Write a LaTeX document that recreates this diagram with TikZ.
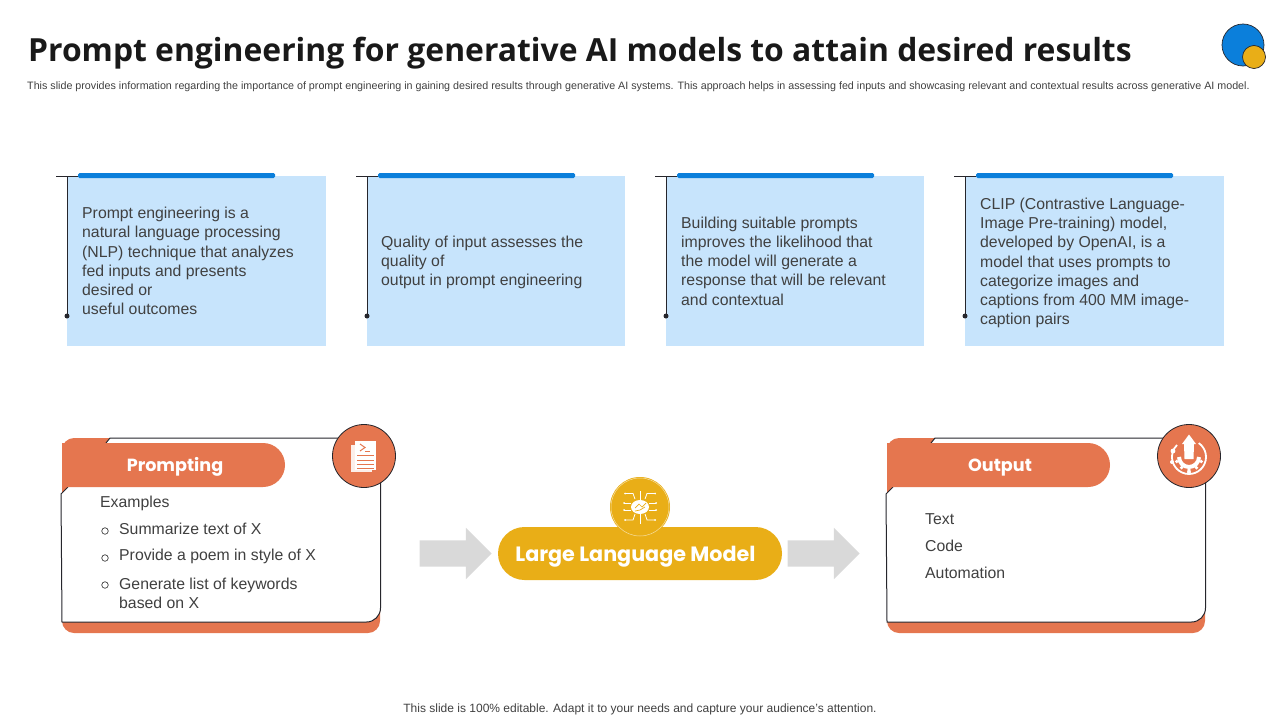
\documentclass[tikz,border=0pt]{standalone}
\usepackage{fontspec}
\setmainfont{Liberation Sans}
\newfontfamily\titlefont{Open Sans}
\newfontfamily\headfont{Poppins}
\usetikzlibrary{calc}
\usetikzlibrary{shapes.misc}
\usetikzlibrary{shapes.arrows}
\definecolor{boxblue}{HTML}{C7E4FC}
\definecolor{barblue}{HTML}{0B7FDB}
\definecolor{cardorange}{HTML}{E5764F}
\definecolor{llmyellow}{HTML}{E9AE17}
\definecolor{arrowgrey}{HTML}{D9D9D9}
\definecolor{bodygrey}{HTML}{404040}
\definecolor{linedark}{HTML}{26262C}
\tikzset{
    bodytext/.style={text=bodygrey,font=\fontsize{15.8}{19.2}\selectfont,inner sep=0pt,align=left},
    cardline/.style={anchor=west,text=bodygrey,font=\fontsize{15.8}{19}\selectfont,inner sep=0pt,align=left},
    cardpill/.style={rounded rectangle,rounded rectangle west arc=none,fill=cardorange,minimum width=223pt,minimum height=44pt,inner sep=0pt,text=white,font=\headfont\bfseries\fontsize{17.6}{22}\selectfont},
    iconcircle/.style={circle,draw=linedark,fill=cardorange,line width=0.8pt,minimum size=63pt,inner sep=0pt},
    greyarrow/.style={single arrow,fill=arrowgrey,minimum height=72pt,inner xsep=0pt,inner ysep=13pt,single arrow head extend=12.5pt,single arrow head indent=0pt}
}
\begin{document}
\begin{tikzpicture}[x=1pt,y=-1pt,line cap=butt]
            \useasboundingbox (0,0) rectangle (1280,720);
            %%%%%%%%%%%%%%%%%%%%%%%%%%%%%%%%%%%%%%%%%%title
            \node [anchor=west,inner sep=0pt,text=black!90,font=\titlefont\bfseries\fontsize{31.85}{36}\selectfont] (title) at (28,53) {Prompt engineering for generative AI models to attain desired results};
            \node [anchor=west,inner sep=0pt,text=bodygrey,font=\fontsize{10.72}{12}\selectfont] (subtitle) at (27,87) {This slide provides information regarding the importance of prompt engineering in gaining desired results through generative AI systems. This approach helps in assessing fed inputs and showcasing relevant and contextual results across generative AI model.};
            \node [circle,draw=linedark,fill=barblue,line width=0.7pt,minimum size=42pt,inner sep=0pt] (logoblue) at (1243,45) {};
            \node [circle,draw=linedark,fill=llmyellow,line width=0.7pt,minimum size=23pt,inner sep=0pt] (logoyellow) at (1254,57) {};
            %%%%%%%%%%%%%%%%%%%%%%%%%%%%%%%%%%%%%%%%%%top boxes
            \foreach \x/\w/\t/\y/\n/\p in {
                67/259/82/261/a/{Prompt engineering is a\\natural language processing\\(NLP) technique that analyzes\\fed inputs and presents\\desired or\\useful outcomes},
                367/258/381/262.5/b/{Quality of input assesses the\\quality of\\output in prompt engineering},
                666/258/681/261/c/{Building suitable prompts\\improves the likelihood that\\the model will generate a\\response that will be relevant\\and contextual},
                965/259/980/263/d/{CLIP (Contrastive Language-\\Image Pre-training) model,\\developed by OpenAI, is a\\model that uses prompts to\\categorize images and\\captions from 400 MM image-\\caption pairs}}
            {
                \fill [boxblue] (\x,176) rectangle +(\w,170);
                \fill [barblue,rounded corners=1.5pt] (\x+11,173) rectangle +(197,5);
                \coordinate (tick\n) at (\x-11,176);
                \coordinate (corner\n) at (\x,176);
                \coordinate (end\n) at (\x,316);
                \draw [linedark,line width=1pt] (tick\n) -- (\x+11,176);
                \draw [linedark,line width=1pt] (corner\n) -- (end\n);
                \fill [linedark] (end\n) circle [radius=2.5pt];
                \node [bodytext,anchor=west] (text\n) at (\t,\y) {\p};
            }
            %%%%%%%%%%%%%%%%%%%%%%%%%%%%%%%%%%%%%%%%%%two cards
            \foreach \d/\n/\h in {0/prompting/Prompting,825/output/Output}
            {
                \fill [cardorange,rounded corners=12pt] (62+\d,438) rectangle (380+\d,633);
                \fill [white,rounded corners=14pt] (380.5+\d,438) -- (380.5+\d,622) -- (200+\d,622) [sharp corners] -- (62+\d,622) -- (61+\d,494) -- (68+\d,487) -- (110+\d,470) -- (106+\d,443) -- (110+\d,438) -- cycle;
                \draw [linedark,line width=1pt] (106+\d,443) -- (110+\d,438) -- (364+\d,438);
                \draw [linedark,line width=1pt,rounded corners=14pt] (380.5+\d,480) -- (380.5+\d,622) -- (200+\d,622) [sharp corners] -- (62+\d,622) -- (61+\d,494) -- (68+\d,487);
                \node [cardpill] (\n pill) at (173.5+\d,465) {\hspace*{3pt}\raisebox{-6pt}[0pt][0pt]{\h}};
                \node [iconcircle] (\n icon) at (364+\d,456) {};
            }
            %%%%%%%%%%%%%%%%%%%%%%%%%%%%%%%%%%%%%%%%%%card texts
            \node [cardline] (examples) at (100,503) {Examples};
            \foreach \y/\n/\p in {529/one/Summarize text of X,556.5/two/Provide a poem in style of X,593/three/{Generate list of keywords\\based on X}}
            {
                \node [cardline] (item\n) at (119,\y) {\p};
            }
            \foreach \y/\n in {531/one,558/two,585/three}
            {
                \node [circle,draw=bodygrey,line width=0.7pt,minimum size=6.5pt,inner sep=0pt] (bullet\n) at (105,\y) {};
            }
            \foreach \y/\n/\p in {519/text/Text,546/code/Code,573/automation/Automation}
            {
                \node [cardline] (out\n) at (925,\y) {\p};
            }
            %%%%%%%%%%%%%%%%%%%%%%%%%%%%%%%%%%%%%%%%%%middle
            \node [greyarrow] (arrowleft) at (449,553.5) {};
            \node [greyarrow] (arrowright) at (817,553.5) {};
            \node [rounded rectangle,fill=llmyellow,minimum width=284pt,minimum height=53pt,inner sep=0pt,text=white,font=\headfont\bfseries\fontsize{20.7}{24}\selectfont] (llm) at (640,553.5) {\hspace*{-9pt}\raisebox{-8pt}[0pt][0pt]{Large Language Model}};
            \node [circle,fill=llmyellow,minimum size=60pt,inner sep=0pt] (llmicon) at (640,507) {};
            \draw [white!60!llmyellow,line width=0.5pt] (llmicon.center) circle [radius=29pt];
            %%%%%%%%%%%%%%%%%%%%%%%%%%%%%%%%%%%%%%%%%%chip icon
            \foreach \s in {-1,1}
            {
                \draw [white,line width=0.8pt] (640+\s*5,499) -- (640+\s*7,493.5) -- (640+\s*15,493.5);
                \draw [white,line width=0.8pt] (640+\s*9,503) -- (640+\s*16,503);
                \draw [white,line width=0.8pt] (640+\s*9,510) -- (640+\s*16,510);
                \draw [white,line width=0.8pt] (640+\s*5,514) -- (640+\s*7,520) -- (640+\s*15,520);
                \fill [white] (640+\s*15,493.5) circle [radius=1pt] (640+\s*16,503) circle [radius=1pt] (640+\s*16,510) circle [radius=1pt] (640+\s*15,520) circle [radius=1pt];
            }
            \draw [white,line width=0.8pt] (640,491) -- (640,524);
            \fill [white] (640,507) ellipse [x radius=9pt,y radius=7pt];
            \draw [llmyellow,line width=0.7pt] (635,508) -- (639,504) -- (642,507) -- (646,503);
            \draw [llmyellow,line width=0.7pt] (635,511) -- (640,510) -- (645,507);
            %%%%%%%%%%%%%%%%%%%%%%%%%%%%%%%%%%%%%%%%%%document icon
            \fill [white!88!cardorange] (351,445) rectangle (372,472);
            \fill [white] (355,441) rectangle (376,470);
            \draw [cardorange,line width=1pt] (360,444) -- (365,447.5) -- (360,451);
            \draw [cardorange,line width=1pt] (365,451.5) -- (370,451.5);
            \foreach \y in {455.5,460,464.5,468.5}
            {
                \draw [cardorange,line width=1pt] (357,\y) -- (374,\y);
            }
            %%%%%%%%%%%%%%%%%%%%%%%%%%%%%%%%%%%%%%%%%%output icon
            \draw [white,line width=1.8pt] (1189,457) ++(55:17pt) arc [start angle=55,end angle=-205,radius=17pt];
            \draw [white,line width=1.8pt] (1189,457) ++(165:17pt) arc [start angle=165,end angle=135,radius=17pt];
            \draw [white,line width=4pt] (1189,457) ++(0:10pt) arc [start angle=0,end angle=-180,radius=10pt];
            \fill [white] (1189,434.5) -- (1196,444) -- (1194,444) -- (1193.5,459) -- (1184.5,459) -- (1184,444) -- (1182,444) -- cycle;
            \foreach \a in {200,235,270,305,340}
            {
                \fill [white] (1189,457) ++(\a:13pt) circle [radius=1.9pt];
            }
            \fill [white] (1189,472) circle [radius=2pt] (1173,451) circle [radius=2.4pt] (1172,462) circle [radius=2pt];
            \fill [cardorange] (1186.5,462) circle [radius=0.6pt] (1189,462) circle [radius=0.6pt] (1191.5,462) circle [radius=0.6pt];
            %%%%%%%%%%%%%%%%%%%%%%%%%%%%%%%%%%%%%%%%%%footer
            \node [inner sep=0pt,text=bodygrey,font=\fontsize{12}{14}\selectfont] (footer) at (640,709.5) {This slide is 100\% editable. Adapt it to your needs and capture your audience's attention.};
\end{tikzpicture}
\end{document}
